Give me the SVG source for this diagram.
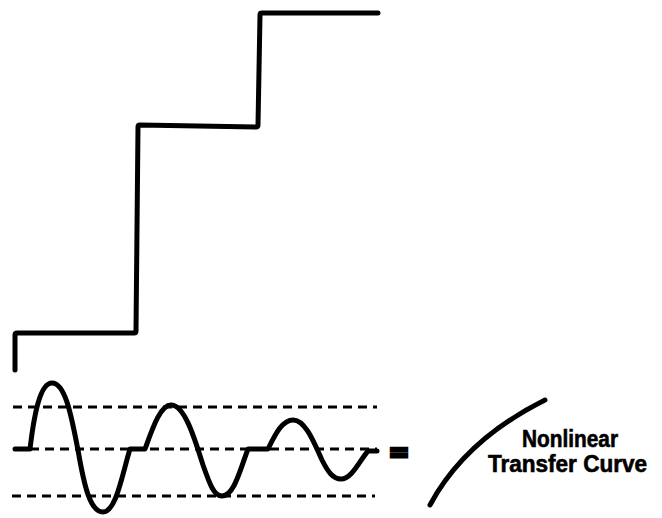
<svg xmlns="http://www.w3.org/2000/svg" width="662" height="518" viewBox="0 0 662 518">
<style>
.thick{fill:none;stroke:#000;stroke-width:5;stroke-linejoin:round;stroke-linecap:round}
.dash{fill:none;stroke:#000;stroke-width:3;stroke-dasharray:9 6}
.lbl{font-family:"Liberation Sans",Arial,sans-serif;font-weight:bold;font-size:23px;fill:#000;stroke:#000;stroke-width:0.6}
</style>
<rect width="662" height="518" fill="#fff"/>
<g id="staircase">
<path class="thick" d="M15,370 L15,335 Q15,333 17,333 L134,333 Q136,333 136,331 L138,127 Q138,125 140,125 L256,127 Q258,127 258,125 L260,15 Q260,13 262,13 L378,13"/>
</g>
<g id="reference-lines">
<line class="dash" x1="13" y1="407" x2="377" y2="407"/>
<line class="dash" x1="15" y1="449" x2="377" y2="449"/>
<line class="dash" x1="12" y1="496" x2="375" y2="496"/>
</g>
<g id="wave">
<path class="thick" d="M15,449 L30,449 C34,415 40,383 52,383 C66,383 72,420 78,450 C84,485 90,512 103,512 C116,512 122,475 130,449 L145,449 C152,430 160,405 171,405 C185,405 195,440 203,465 C210,485 214,496 222,496 C234,496 240,470 248,449 L268,449 C275,435 282,420 293,420 C306,420 315,445 322,460 C328,472 333,479 341,479 C352,479 360,460 368,451 L377,451"/>
</g>
<g id="equals">
<text x="399" y="461" text-anchor="middle" style="font-family:'DejaVu Sans',sans-serif;font-weight:bold;font-size:25px;stroke:#000;stroke-width:2.8">=</text>
</g>
<g id="transfer-curve">
<path class="thick" d="M430,505 Q465,440 545,400"/>
<text class="lbl" x="522" y="447" textLength="96" lengthAdjust="spacingAndGlyphs">Nonlinear</text>
<text class="lbl" x="488" y="472" textLength="159" lengthAdjust="spacingAndGlyphs">Transfer Curve</text>
</g>
</svg>
